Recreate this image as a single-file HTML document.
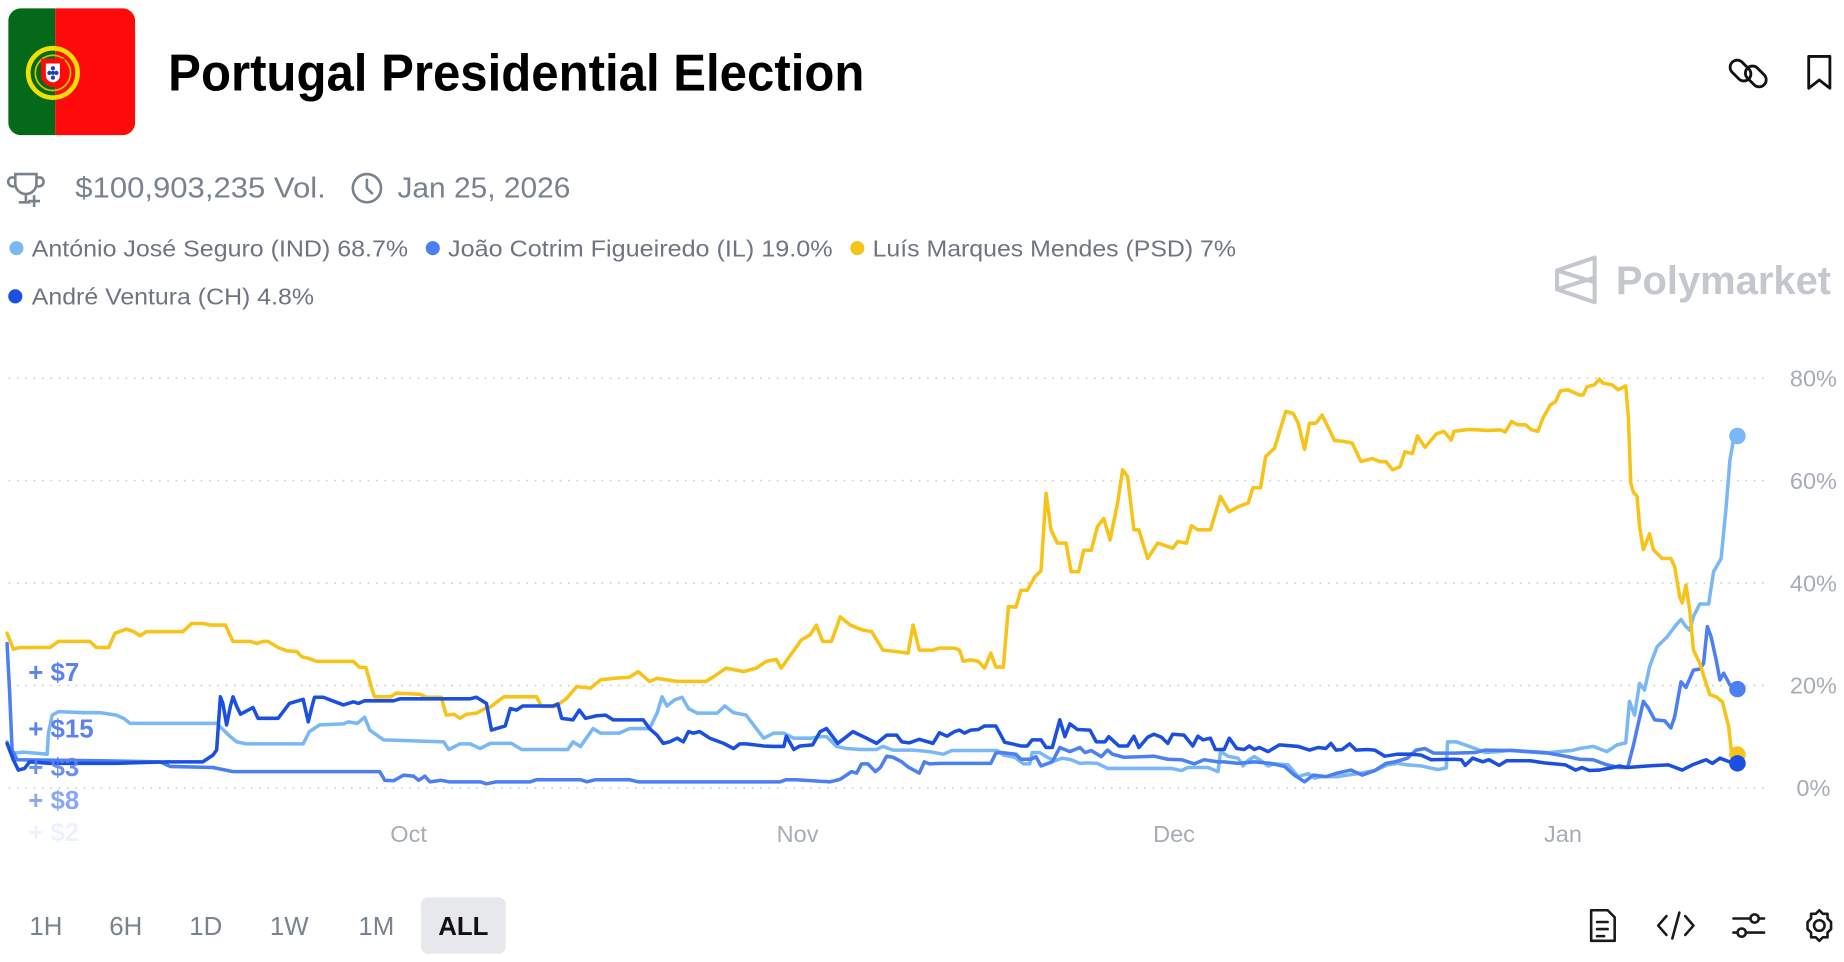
<!DOCTYPE html>
<html><head><meta charset="utf-8">
<style>
html,body{margin:0;padding:0;background:#fff;}
svg{display:block;font-family:"Liberation Sans",Arial,sans-serif;}
</style></head>
<body>
<svg id="root" width="1844" height="962" viewBox="0 0 1568 818" preserveAspectRatio="none" xmlns="http://www.w3.org/2000/svg">
  <g>
    <clipPath id="fc"><rect x="7" y="7" width="108" height="108" rx="11"/></clipPath>
    <g clip-path="url(#fc)">
      <rect x="7" y="7" width="40" height="108" fill="#046a1a"/>
      <rect x="47" y="7" width="68" height="108" fill="#ff0a0a"/>
    </g>
    <circle cx="45" cy="62" r="21" fill="none" stroke="#f4e000" stroke-width="4"/>
    <circle cx="45" cy="62" r="15" fill="none" stroke="#c8c000" stroke-width="1.5"/>
    <path d="M35 50 h20 v14 a10 10 0 0 1 -20 0z" fill="#ff0a0a"/>
    <path d="M39 54 h12 v10 a6 6 0 0 1 -12 0z" fill="#fff"/>
    <circle cx="45" cy="58" r="1.8" fill="#1d3fbf"/><circle cx="42" cy="62" r="1.8" fill="#1d3fbf"/><circle cx="48" cy="62" r="1.8" fill="#1d3fbf"/><circle cx="45" cy="62" r="1.8" fill="#1d3fbf"/><circle cx="45" cy="66" r="1.8" fill="#1d3fbf"/>
  </g>
  <text x="143" y="77" font-size="44" font-weight="bold" fill="#000" textLength="592" lengthAdjust="spacingAndGlyphs">Portugal Presidential Election</text>
  <g fill="none" stroke="#111" stroke-width="2.4">
    <rect x="1474" y="50" width="12" height="20" rx="6" transform="rotate(-45 1480 60)"/>
    <rect x="1487" y="55" width="12" height="20" rx="6" transform="rotate(-45 1493 65)"/>
  </g>
  <path d="M1538 48 h18 v27 l-9 -7 l-9 7z" fill="none" stroke="#111" stroke-width="2.4" stroke-linejoin="round"/>

  <g fill="none" stroke="#7a828e" stroke-width="2.2">
    <path d="M13 148 h18 v8 a9 9 0 0 1 -18 0z"/><path d="M13 151 h-4 a4 4 0 0 0 4 7"/><path d="M31 151 h4 a4 4 0 0 1 -4 7"/><path d="M22 165 v6 M16 172 h10 M29 166 v10 M24 171 h10"/>
  </g>
  <text x="64" y="168" font-size="24" fill="#7a828e" textLength="213" lengthAdjust="spacingAndGlyphs">$100,903,235 Vol.</text>
  <g fill="none" stroke="#7a828e" stroke-width="2.2"><circle cx="312" cy="160" r="12"/><path d="M312 152 v8 l5 5"/></g>
  <text x="338" y="168" font-size="24" fill="#7a828e" textLength="147" lengthAdjust="spacingAndGlyphs">Jan 25, 2026</text>

  <g font-size="20" fill="#6e7580">
    <g><circle cx="14" cy="211" r="6" fill="#7ab8f5"/><text x="27" y="218" textLength="320" lengthAdjust="spacingAndGlyphs">António José Seguro (IND) 68.7%</text></g>
    <g><circle cx="368" cy="211" r="6" fill="#4b7ff2"/><text x="381" y="218" textLength="327" lengthAdjust="spacingAndGlyphs">João Cotrim Figueiredo (IL) 19.0%</text></g>
    <g><circle cx="729" cy="211" r="6" fill="#f7c318"/><text x="742" y="218" textLength="309" lengthAdjust="spacingAndGlyphs">Luís Marques Mendes (PSD) 7%</text></g>
    <g><circle cx="13" cy="252" r="6" fill="#1a4fe0"/><text x="27" y="259" textLength="240" lengthAdjust="spacingAndGlyphs">André Ventura (CH) 4.8%</text></g>
  </g>

  <g>
    <path d="M1324 230 L1356 219 V257 L1324 246 Z M1324 230 L1356 240 M1324 246 L1356 236" fill="none" stroke="#c4c8ce" stroke-width="3.5" stroke-linejoin="round"/>
    <text x="1374" y="250" font-size="34" font-weight="bold" fill="#c4c8ce" textLength="183" lengthAdjust="spacingAndGlyphs">Polymarket</text>
  </g>

  <g id="chart"></g>

  <g font-size="22" font-weight="bold" fill="#5b82ee">
    <text x="24" y="579">+ $7</text>
    <text x="24" y="627">+ $15</text>
    <text x="24" y="660" opacity="0.9">+ $3</text>
    <text x="24" y="688" opacity="0.7">+ $8</text>
    <text x="24" y="715" opacity="0.1">+ $2</text>
  </g>

  <g font-size="22" fill="#7a828e" text-anchor="middle">
    <rect x="358" y="763" width="72" height="48" rx="6" fill="#e6e8eb"/>
    <text x="39" y="795">1H</text>
    <text x="107" y="795">6H</text>
    <text x="175" y="795">1D</text>
    <text x="246" y="795">1W</text>
    <text x="320" y="795">1M</text>
    <text x="394" y="795" fill="#111" font-weight="bold">ALL</text>
  </g>
  <g fill="none" stroke="#1a1a1a" stroke-width="2.2" stroke-linecap="round" stroke-linejoin="round">
    <g><path d="M1353 774 h14 l6 6 v20 h-20z"/><path d="M1358 784 h9 M1358 790 h9 M1358 796 h6"/></g>
    <g><path d="M1417 779 l-7 8 l7 8 M1433 779 l7 8 l-7 8 M1428 776 l-6 22"/></g>
    <g><path d="M1474 781 h26 M1474 793 h26"/><circle cx="1492" cy="781" r="3.5" fill="#fff"/><circle cx="1481" cy="793" r="3.5" fill="#fff"/></g>
    <g><circle cx="1547" cy="787" r="4.5"/><path d="M1547 774 l3 3 h4 v4 l3 3 v6 l-3 3 v4 h-4 l-3 3 l-3 -3 h-4 v-4 l-3 -3 v-6 l3 -3 v-4 h4z"/></g>
  </g>
</svg>
<script>
const yTicks = [0, 20, 40, 60, 80];
const monthLabels = ["Oct", "Nov", "Dec", "Jan"];
const monthDays = [32, 63, 93, 124];

const seguroDays = [0,0.2,0.6,1.3,3.2,3.3,3.6,4.1,6.1,7.4,8.7,9.3,9.8,16.7,17.8,18.3,19.1,23.6,24.1,24.9,26.8,27.2,27.9,28.5,28.9,30.0,34.8,35.2,36.1,36.9,37.7,38.5,40.2,41.0,44.7,45.1,45.7,46.7,47.3,48.8,49.6,51.2,51.8,52.2,52.6,53.2,53.8,54.3,55.0,56.6,57.2,57.9,58.9,59.3,60.3,61.1,61.9,62.7,64.0,64.8,65.3,66.1,66.9,68.0,69.3,69.8,70.6,72.2,73.5,74.6,75.3,78.9,79.4,80.3,81.0,81.5,81.7,82.3,82.8,83.5,84.1,84.8,85.5,86.1,86.9,87.7,92.8,93.6,94.1,95.7,96.5,96.7,97.3,98.1,98.5,98.9,99.4,99.9,100.5,101.0,102.1,102.9,103.7,104.2,104.7,106.0,106.8,107.9,109.0,110.0,110.8,111.6,112.7,114.0,114.7,114.8,115.5,116.2,117.0,117.8,118.9,119.8,120.9,122.5,123.6,124.7,125.3,126.4,127.5,128.3,129.0,129.3,129.7,130.1,130.5,130.9,131.5,132.3,133.0,133.4,133.8,134.1,134.4,134.9,135.6,136.0,136.6,137.0,137.3,137.6,137.9];
const seguroVals = [9.0,7.4,6.8,7.0,6.6,10.7,14.2,14.9,14.7,14.7,14.2,13.6,12.6,12.6,10.0,9.0,8.6,8.6,11.0,12.3,12.5,12.9,12.6,13.8,11.3,9.4,9.0,7.5,8.6,8.6,7.7,8.7,8.7,7.5,7.5,9.0,8.1,11.6,10.7,10.7,11.6,11.6,14.6,17.8,16.0,17.2,17.7,15.5,14.6,14.6,16.0,14.7,14.2,12.9,9.7,10.7,10.7,9.7,9.7,10.0,10.0,8.1,7.7,7.5,7.5,8.1,7.4,7.4,7.1,6.6,7.3,7.3,6.4,6.0,4.7,4.7,6.9,6.9,6.1,5.3,5.8,5.5,4.8,4.9,4.8,3.8,3.8,3.4,4.0,4.0,3.2,7.1,6.2,5.8,4.3,5.4,6.1,5.4,4.3,4.7,4.5,2.2,2.8,1.9,2.2,2.2,2.5,2.9,3.4,4.5,4.8,4.5,4.3,3.6,3.9,9.0,9.0,8.4,7.7,6.9,7.1,7.4,7.1,6.8,7.1,7.3,7.7,8.1,7.1,8.4,8.8,16.9,14.2,20.4,19.1,23.7,27.6,29.5,31.8,32.9,31.5,30.8,33.5,35.9,35.9,42.2,44.8,54.9,64.0,68.2,68.7];

const figueiredoDays = [0,0.2,0.4,0.8,7.4,12.2,13.0,16.4,18.0,29.7,30.1,30.8,31.6,32.4,32.8,33.3,33.7,34.6,35.2,37.7,38.2,39.0,41.7,42.2,45.7,46.2,46.9,49.6,50.3,61.6,62.1,62.9,65.6,66.4,66.9,67.3,67.7,68.1,68.6,69.2,69.6,70.1,70.6,71.3,71.8,72.7,73.1,73.5,74.3,75.5,78.4,78.8,79.2,80.4,80.8,81.6,82.0,82.4,83.3,83.9,84.7,85.5,85.9,86.4,87.2,87.7,88.1,89.0,90.6,91.4,92.5,93.6,94.6,95.4,96.5,97.0,98.1,99.4,100.7,101.8,102.6,103.4,104.1,105.1,106.0,107.1,108.0,109.0,109.9,110.6,111.6,112.3,113.0,113.7,114.7,115.4,117.0,117.8,119.8,121.4,122.5,124.2,125.3,126.4,127.5,128.5,129.1,129.2,129.6,130.0,130.4,130.8,131.3,132.1,132.6,132.9,133.4,133.8,134.4,134.9,135.2,135.5,135.8,136.2,136.5,136.8,137.3,137.6,137.9];
const figueiredoVals = [28.2,19.1,7.4,5.5,5.3,5.1,4.2,4.0,3.2,3.2,1.5,1.4,2.5,2.3,1.5,2.3,1.2,1.5,1.2,1.2,0.8,1.2,1.2,1.6,1.6,1.2,1.6,1.6,1.2,1.2,1.6,1.6,1.2,1.7,2.5,3.2,2.9,4.7,4.7,3.2,4.0,6.2,6.0,5.1,4.1,2.9,5.1,4.7,4.8,4.8,4.8,6.8,6.9,6.6,5.6,5.6,6.1,4.3,5.1,7.9,7.1,7.9,6.9,7.3,6.1,7.4,6.6,6.0,6.1,6.2,5.6,5.5,4.7,5.5,5.1,5.1,4.8,5.1,4.8,4.2,2.5,1.2,2.5,2.2,2.9,3.5,2.5,3.4,4.8,5.1,5.8,7.4,7.7,6.8,6.8,6.8,6.9,7.4,7.3,7.1,6.9,6.2,5.6,5.5,4.5,4.0,4.0,4.5,8.2,12.6,16.9,15.6,13.3,13.1,11.7,13.9,20.7,19.6,23.0,23.2,24.3,31.5,29.5,25.0,21.1,22.4,20.1,19.8,19.3];

const mendesDays = [0,0.5,1.0,3.4,4.1,6.6,7.1,8.1,8.6,9.5,10.1,10.6,11.1,14.0,14.7,15.6,16.2,17.4,18.0,19.4,19.9,20.4,20.8,21.7,22.3,23.1,23.5,24.0,24.7,27.6,28.1,28.6,29.1,29.3,30.6,31.0,32.9,33.4,34.6,35.0,35.6,36.1,36.6,37.4,38.1,38.5,39.6,42.2,42.6,43.7,44.6,45.4,46.5,47.3,48.3,49.6,50.3,51.2,51.8,52.6,53.4,55.7,56.3,57.3,58.7,59.7,60.5,61.3,61.7,63.3,64.0,64.5,65.0,65.7,66.4,67.2,68.2,68.9,69.8,70.9,71.8,72.2,72.7,73.8,74.3,75.5,75.9,76.2,76.8,77.4,77.9,78.4,78.8,79.4,79.8,80.4,80.8,81.3,81.9,82.4,82.8,83.2,83.7,84.4,84.8,85.4,85.8,86.4,86.9,87.4,87.9,88.5,88.9,89.3,89.8,90.2,90.9,91.7,92.9,93.3,94.0,94.4,94.9,95.9,96.7,97.4,98.1,98.9,99.3,99.9,100.3,101.0,101.9,102.5,102.9,103.4,103.8,104.3,104.8,105.8,106.4,107.2,107.9,108.8,109.4,109.9,110.4,111.0,111.4,112.0,112.4,113.0,113.9,114.5,115.1,115.3,116.5,118.0,119.0,119.4,119.9,120.4,121.0,121.5,122.0,122.4,123.0,123.4,123.8,124.4,125.3,125.6,125.9,126.5,126.9,127.2,127.9,128.4,129.0,129.2,129.4,129.6,129.9,130.1,130.4,130.9,131.2,131.9,132.6,132.9,133.3,133.5,133.8,134.1,134.4,134.9,135.3,135.7,136.2,136.7,137.2,137.4,137.9];
const mendesVals = [30.2,27.1,27.4,27.4,28.6,28.6,27.4,27.4,30.2,31.0,30.5,29.7,30.5,30.5,32.1,32.1,31.8,31.8,28.6,28.6,28.2,28.6,28.6,27.3,26.8,26.6,25.6,25.3,24.7,24.7,23.5,23.5,19.1,17.8,17.8,18.5,18.3,17.7,17.7,14.2,14.4,13.6,14.4,14.6,15.5,15.8,17.8,17.8,15.9,15.9,17.5,19.8,19.5,21.1,21.4,21.6,22.7,20.8,21.4,21.1,20.8,20.8,21.7,23.4,22.7,23.4,24.7,25.1,23.4,28.9,29.9,31.8,28.6,28.6,33.4,31.8,30.8,30.5,26.9,26.6,26.3,31.8,26.9,26.9,27.3,27.3,26.9,24.7,25.0,24.7,23.4,26.3,23.6,23.6,35.4,35.3,38.6,38.6,41.2,42.4,57.5,50.4,47.8,47.8,42.2,42.2,46.4,46.4,51.0,52.6,48.4,55.6,62.1,60.8,50.4,50.4,44.8,47.8,46.8,48.1,47.8,51.2,50.4,50.4,56.9,53.9,54.9,55.6,58.6,58.6,64.7,66.3,73.5,73.1,71.2,66.1,71.2,71.2,72.8,67.8,67.7,67.3,63.7,64.3,63.7,63.7,62.1,62.7,65.6,65.3,68.7,66.5,69.1,69.6,67.9,69.6,70.0,69.8,69.9,69.5,71.5,70.9,70.9,69.9,69.6,72.2,74.8,75.4,77.5,77.7,76.7,76.7,78.3,78.7,79.8,79.0,78.7,77.7,78.5,72.5,59.5,57.8,56.9,51.0,46.5,49.6,46.5,44.8,44.8,43.2,37.3,36.1,39.6,34.7,26.9,24.3,21.1,18.2,17.8,16.8,12.0,7.4,6.5];

const venturaDays = [0,0.5,0.9,1.4,1.8,3.4,8.7,12.7,15.6,16.4,16.7,17.0,17.2,17.5,17.8,18.0,18.3,18.6,19.6,20.0,21.6,22.5,23.6,24.0,24.3,24.5,25.2,26.8,27.6,28.0,28.5,30.8,31.3,36.9,37.4,38.2,38.6,39.7,40.1,40.6,41.1,43.5,43.9,44.2,45.1,45.6,46.1,47.0,47.7,48.3,50.7,51.2,51.8,52.3,52.8,53.4,53.9,54.3,54.7,55.2,56.0,57.1,57.9,58.4,58.9,60.3,61.1,61.9,62.1,62.7,63.2,64.2,64.8,65.3,66.2,66.9,67.4,68.5,69.3,70.1,70.9,71.3,71.9,72.7,73.8,74.3,74.9,75.5,75.9,76.3,76.8,77.4,77.9,78.8,79.5,80.1,80.8,81.3,81.7,82.4,82.8,83.3,83.9,84.3,84.7,85.3,86.3,86.8,87.5,87.8,88.6,89.3,89.8,90.2,90.9,91.4,92.0,92.5,92.9,93.8,94.5,94.9,95.3,95.9,96.3,97.0,97.4,98.0,98.6,99.0,99.4,99.8,100.5,101.4,102.9,103.8,104.5,105.1,105.5,105.9,106.4,107.0,107.5,108.4,109.0,109.8,110.8,111.9,112.7,113.5,115.3,115.9,116.2,116.8,117.6,118.1,118.9,119.5,121.4,122.5,124.2,125.0,125.5,126.1,126.9,128.0,128.5,129.1,130.7,132.4,133.5,134.3,135.4,135.9,136.5,137.6,137.9];
const venturaVals = [8.7,5.5,3.5,3.8,5.1,4.8,4.8,5.1,5.1,6.4,7.4,17.8,16.5,12.3,15.9,17.8,15.9,14.4,15.7,13.6,13.6,16.5,17.3,12.9,15.9,17.7,17.7,16.2,16.8,16.5,17.0,17.0,17.4,17.4,17.7,16.5,11.3,12.1,15.5,15.2,16.0,16.0,16.4,13.6,13.3,15.2,13.6,14.1,14.2,13.3,13.3,11.6,10.3,8.7,9.0,9.7,9.0,11.0,10.7,11.0,9.7,8.7,7.7,8.6,8.6,8.2,8.1,8.1,10.1,7.5,8.2,8.4,11.0,11.6,8.7,10.0,11.0,9.7,8.7,10.3,10.3,9.0,8.8,9.5,8.7,10.8,10.1,11.0,11.3,10.7,11.3,11.4,12.1,12.1,8.9,8.6,8.2,8.2,9.4,9.4,7.9,7.9,13.3,10.0,12.5,11.4,11.3,9.0,9.0,10.0,8.2,8.2,10.1,7.9,9.9,10.5,9.9,8.7,10.5,10.3,8.2,10.1,9.4,9.7,7.5,7.5,9.7,7.7,7.5,8.2,7.5,7.9,7.1,8.4,8.1,7.4,7.9,7.7,8.7,7.4,7.5,8.6,7.4,7.5,7.4,6.2,6.6,6.6,6.4,5.5,5.6,5.5,4.4,5.8,5.1,5.5,4.4,5.3,5.3,4.9,4.5,3.5,4.0,3.4,3.5,4.0,4.3,4.0,4.3,4.5,3.5,4.5,5.5,4.8,5.8,4.8,4.8];

const NS = "http://www.w3.org/2000/svg";
const chart = document.getElementById('chart');
const X0 = 6, PX_PER_DAY = 10.67, Y0 = 670, PX_PER_PCT = 4.356;
function xScale(d) { return X0 + PX_PER_DAY * d; }
function yScale(p) { return Y0 - PX_PER_PCT * p; }

yTicks.forEach(function (t) {
  const g = document.createElementNS(NS, 'line');
  
  
  g.setAttribute('x1', 8); g.setAttribute('x2', 1500);
  g.setAttribute('y1', yScale(t)); g.setAttribute('y2', yScale(t));
  g.setAttribute('stroke', '#cfd3d8'); g.setAttribute('stroke-width', '1.6');
  g.setAttribute('stroke-dasharray', '0.1 7'); g.setAttribute('stroke-linecap', 'round');
  chart.appendChild(g);
  const lb = document.createElementNS(NS, 'text');
  
  
  lb.setAttribute('x', 1542); lb.setAttribute('y', yScale(t) + 7);
  lb.setAttribute('font-size', '20'); lb.setAttribute('fill', '#a7adb5');
  lb.setAttribute('text-anchor', 'middle');
  lb.textContent = t + '%';
  chart.appendChild(lb);
});
monthLabels.forEach(function (m, i) {
  const lb = document.createElementNS(NS, 'text');
  
  
  lb.setAttribute('x', xScale(monthDays[i])); lb.setAttribute('y', 716);
  lb.setAttribute('font-size', '20'); lb.setAttribute('fill', '#a7adb5');
  lb.setAttribute('text-anchor', 'middle');
  lb.textContent = m;
  chart.appendChild(lb);
});

function drawSeries(name, days, vals, color) {
  let d = '';
  for (let i = 0; i < days.length; i++) {
    d += (i ? 'L' : 'M') + xScale(days[i]).toFixed(1) + ' ' + yScale(vals[i]).toFixed(1);
  }
  const p = document.createElementNS(NS, 'path');
  
  
  p.setAttribute('d', d); p.setAttribute('fill', 'none');
  p.setAttribute('stroke', color); p.setAttribute('stroke-width', '3');
  p.setAttribute('stroke-linejoin', 'round'); p.setAttribute('stroke-linecap', 'round');
  chart.appendChild(p);
}
function drawDot(name, days, vals, color) {
  const n = days.length - 1;
  const c = document.createElementNS(NS, 'circle');
  
  
  c.setAttribute('cx', xScale(days[n])); c.setAttribute('cy', yScale(vals[n]));
  c.setAttribute('r', '7'); c.setAttribute('fill', color);
  chart.appendChild(c);
}
drawSeries('seguro', seguroDays, seguroVals, '#7ab8f5');
drawSeries('figueiredo', figueiredoDays, figueiredoVals, '#4b7ff2');
drawSeries('mendes', mendesDays, mendesVals, '#f7c318');
drawSeries('ventura', venturaDays, venturaVals, '#1a4fe0');
drawDot('mendes', mendesDays, mendesVals, '#f7c318');
drawDot('seguro', seguroDays, seguroVals, '#7ab8f5');
drawDot('figueiredo', figueiredoDays, figueiredoVals, '#4b7ff2');
drawDot('ventura', venturaDays, venturaVals, '#1a4fe0');
</script>
</body></html>
